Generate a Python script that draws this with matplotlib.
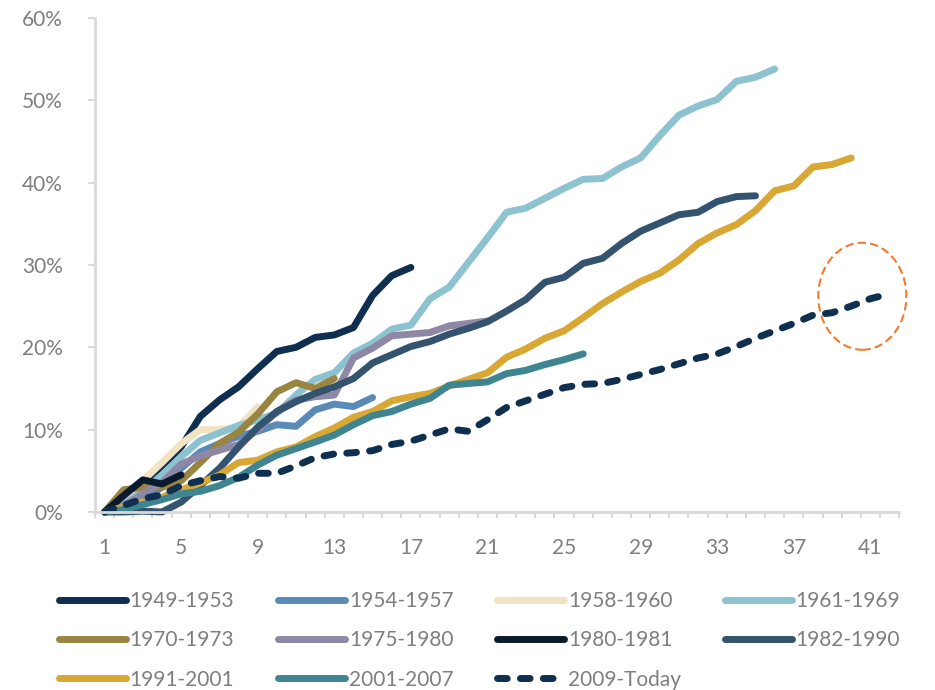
import matplotlib
matplotlib.use("Agg")
import matplotlib.pyplot as plt
from matplotlib.patches import Ellipse
from matplotlib.ticker import FixedLocator, FuncFormatter

plt.rcParams['font.family'] = ['Lato', 'DejaVu Sans']

# -------------------------
# Data (cumulative return in %, per period step)
# -------------------------
labels = ["1949-1953", "1954-1957", "1958-1960", "1961-1969",
          "1970-1973", "1975-1980", "1980-1981", "1982-1990",
          "1991-2001", "2001-2007", "2009-Today"]

s1949 = [0, 1.5, 3.2, 5.5, 7.9, 11.6, 13.6, 15.2, 17.4, 19.5, 20.0, 21.2, 21.5, 22.4,
         26.3, 28.7, 29.7]
s1954 = [0, 0.5, 1.5, 3.0, 5.3, 7.3, 8.3, 9.2, 9.8, 10.6, 10.4, 12.4, 13.1, 12.8, 13.9]
s1958 = [0, 1.6, 3.8, 6.0, 8.3, 10.0, 10.0, 10.3, 12.8]
s1961 = [0, 1.0, 2.5, 4.5, 6.7, 8.7, 9.6, 10.5, 11.2, 12.0, 14.2, 16.1, 16.9, 19.3,
         20.5, 22.2, 22.7, 25.9, 27.3, 30.3, 33.3, 36.4, 36.9, 38.1, 39.3, 40.4, 40.5,
         41.9, 43.0, 45.7, 48.2, 49.3, 50.1, 52.3, 52.8, 53.8]
s1970 = [0, 2.7, 3.0, 3.0, 3.8, 6.0, 8.3, 9.7, 11.9, 14.6, 15.7, 15.0, 16.2]
s1975 = [0, 0.8, 2.2, 3.6, 5.8, 6.8, 7.5, 8.2, 10.0, 12.2, 13.6, 14.0, 14.2, 18.7,
         19.9, 21.4, 21.6, 21.8, 22.6, 22.9, 23.2]
s1980 = [0, 2.0, 3.9, 3.4, 4.5]
s1982 = [0, 0, 0.1, 0, 1.2, 3.2, 5.3, 7.9, 10.3, 12.2, 13.4, 14.4, 15.2, 16.2, 18.1,
         19.1, 20.1, 20.7, 21.6, 22.3, 23.1, 24.4, 25.8, 27.9, 28.5, 30.2, 30.8, 32.6,
         34.1, 35.1, 36.1, 36.4, 37.7, 38.3, 38.4]
s1991 = [0, 0.6, 1.2, 1.8, 2.7, 3.5, 4.5, 6.0, 6.3, 7.3, 7.9, 9.15, 10.2, 11.5, 12.2,
         13.5, 14.0, 14.4, 15.3, 16.1, 16.9, 18.8, 19.8, 21.1, 22.0, 23.6, 25.3, 26.7,
         28.0, 29.0, 30.6, 32.6, 33.9, 34.9, 36.6, 39.0, 39.6, 41.9, 42.2, 43.0]
s2001 = [0, 0.3, 0.9, 1.5, 2.2, 2.5, 3.2, 4.2, 5.7, 6.9, 7.7, 8.5, 9.35, 10.6, 11.7,
         12.2, 13.1, 13.8, 15.4, 15.6, 15.8, 16.8, 17.2, 17.9, 18.5, 19.2]
s2009 = [0, 0.8, 1.6, 2.1, 3.2, 3.8, 4.3, 4.1, 4.7, 4.7, 5.6, 6.6, 7.05, 7.2, 7.45,
         8.2, 8.6, 9.35, 10.1, 9.8, 11.2, 12.7, 13.5, 14.3, 15.1, 15.5, 15.6, 16.1,
         16.7, 17.3, 18.0, 18.7, 19.2, 20.1, 21.1, 22.0, 22.9, 23.9, 24.2, 25.0, 25.9,
         26.5]

series = [s1949, s1954, s1958, s1961, s1970, s1975, s1980, s1982, s1991, s2001, s2009]
colors = ["#0e2f50", "#5a8ab8", "#f2e3c2", "#8dc3d0", "#9a8441", "#8e88a6",
          "#0a1a2e", "#33536f", "#d9a834", "#3e8591", "#0e2f50"]

x_ticks = [1, 5, 9, 13, 17, 21, 25, 29, 33, 37, 41]
y_ticks = [0, 10, 20, 30, 40, 50, 60]

GRAY = "#7f7f7f"
AXIS = "#d9d9d9"

# -------------------------
# Plot
# -------------------------
fig = plt.figure(figsize=(9.35, 6.9), dpi=100)
ax = fig.add_axes([0.1016, 0.258, 0.86, 0.716])

lines = []
for vals, col, lab in zip(series, colors, labels):
    xs = list(range(1, len(vals) + 1))
    if lab == "2009-Today":
        ln, = ax.plot(xs, vals, color=col, lw=5, label=lab, clip_on=False,
                      dashes=(1.4, 1.9), dash_capstyle="round",
                      solid_capstyle="round", solid_joinstyle="round")
    else:
        ln, = ax.plot(xs, vals, color=col, lw=5, label=lab, clip_on=False,
                      solid_capstyle="round", solid_joinstyle="round")
    lines.append(ln)

# highlight circle around the current cycle end
ax.add_patch(Ellipse((40.58, 26.2), 4.6, 13.0, fill=False, ec="#ed7d31",
                     lw=1.5, ls=(0, (4, 2)), clip_on=False))

ax.set_xlim(0.5, 42.5)
ax.set_ylim(0, 60)

ax.xaxis.set_major_locator(FixedLocator(x_ticks))
ax.xaxis.set_minor_locator(FixedLocator([i + 0.5 for i in range(0, 43)]))
ax.yaxis.set_major_locator(FixedLocator(y_ticks))
ax.yaxis.set_major_formatter(FuncFormatter(lambda v, p: f"{v:.0f}%"))

ax.tick_params(axis="x", which="major", length=0, pad=19, labelsize=15, labelcolor=GRAY)
ax.tick_params(axis="x", which="minor", length=4, width=1.5, color=AXIS)
ax.tick_params(axis="y", which="major", length=5, width=1.5, color=AXIS, pad=18,
               labelsize=15, labelcolor=GRAY)

for side in ["top", "right"]:
    ax.spines[side].set_visible(False)
for side in ["left", "bottom"]:
    ax.spines[side].set_color(AXIS)
    ax.spines[side].set_linewidth(2)

# legend: rows of 4 (matplotlib fills columns first, so reorder)
order = [0, 4, 8, 1, 5, 9, 2, 6, 10, 3, 7]
leg = fig.legend([lines[i] for i in order], [labels[i] for i in order],
                 loc="upper left", bbox_to_anchor=(0.063, 0.143), ncol=4,
                 frameon=False, fontsize=15, handlelength=3.2, handletextpad=0.2,
                 columnspacing=2.1, labelspacing=0.92, borderpad=0, borderaxespad=0)
for t in leg.get_texts():
    t.set_color(GRAY)

fig.savefig("out.png", dpi=100)
